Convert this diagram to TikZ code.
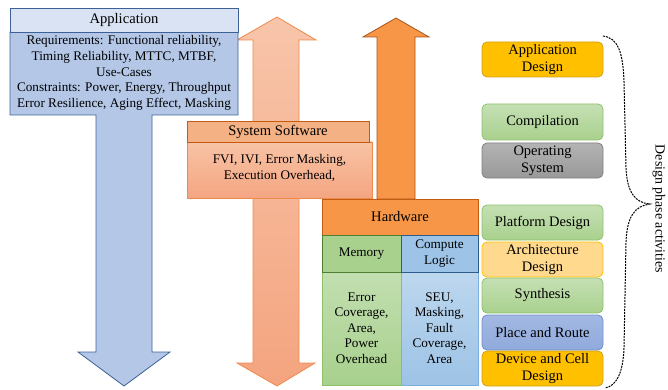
\documentclass[tikz,border=0pt]{standalone}
\usepackage{fontspec}
\setmainfont{Liberation Serif}
\usetikzlibrary{shapes.misc}
\definecolor{appHead}{HTML}{DAE3F3}
\definecolor{appBody}{HTML}{B4C7E7}
\definecolor{appLine}{HTML}{3D6196}
\definecolor{dblTop}{HTML}{F8C5AA}
\definecolor{dblBot}{HTML}{F4A47F}
\definecolor{dblLine}{HTML}{EE8A4C}
\definecolor{ssHead}{HTML}{F4B183}
\definecolor{ssLine}{HTML}{C55A11}
\definecolor{ssTop}{HTML}{F8C3A5}
\definecolor{ssBot}{HTML}{F4A582}
\definecolor{hwFill}{HTML}{F79646}
\definecolor{hwLine}{HTML}{C55A11}
\definecolor{arLine}{HTML}{A9561B}
\definecolor{memHead}{HTML}{A9D18E}
\definecolor{memLine}{HTML}{507E32}
\definecolor{memTop}{HTML}{C2DFB0}
\definecolor{memBot}{HTML}{A8D08D}
\definecolor{memBLine}{HTML}{8CC168}
\definecolor{cmpHead}{HTML}{9DC3E6}
\definecolor{cmpLine}{HTML}{2E5C8A}
\definecolor{cmpTop}{HTML}{BDD7EE}
\definecolor{cmpBot}{HTML}{9DC3E6}
\definecolor{cmpBLine}{HTML}{7BAFDD}
\definecolor{gold}{HTML}{FFC000}
\definecolor{goldLine}{HTML}{D4A017}
\definecolor{grTop}{HTML}{C5E0B4}
\definecolor{grBot}{HTML}{A9D18E}
\definecolor{grLine}{HTML}{8DC26F}
\definecolor{gyTop}{HTML}{B3B3B3}
\definecolor{gyBot}{HTML}{999999}
\definecolor{gyLine}{HTML}{808080}
\definecolor{archFill}{HTML}{FFD98E}
\definecolor{archLine}{HTML}{FFC000}
\definecolor{prTop}{HTML}{A3B8E3}
\definecolor{prBot}{HTML}{8FAADC}
\definecolor{prLine}{HTML}{6E8FD0}
\tikzset{
  box/.style={draw, line width=0.8pt, inner sep=0pt, align=center, font=\fontsize{14.6}{17}\selectfont},
  bodytext/.style={inner sep=0pt, align=center, font=\fontsize{13.2}{15.6}\selectfont},
  phase/.style={draw, line width=0.8pt, rounded corners=5pt, inner sep=0pt, align=center,
    minimum width=121pt, minimum height=35pt, font=\fontsize{14.5}{17}\selectfont},
  greenphase/.style={phase, top color=grTop, bottom color=grBot, draw=grLine}
}
\begin{document}
\begin{tikzpicture}[x=1pt,y=-1pt]
\useasboundingbox (0,0) rectangle (668,390);
% double arrow (software)
\draw[dblLine, line width=0.8pt, top color=dblTop, bottom color=dblBot]
  (277,17) -- (316,40) -- (299,40) -- (299,363) -- (315,363) -- (277,386) -- (237,363)
  -- (253,363) -- (253,40) -- (237,40) -- cycle;
% application with downward arrow
\draw[appLine, line width=0.8pt, fill=appBody]
  (10,32) -- (238,32) -- (238,115) -- (152,115) -- (152,352) -- (170,352) -- (124,386)
  -- (78,352) -- (96,352) -- (96,115) -- (10,115) -- cycle;
\node[box, fill=appHead, draw=appLine, minimum width=228pt, minimum height=24pt] (app) at (124,20) {Application};
\node[bodytext] (appbody) at (124,73) {Requirements: Functional reliability,\\Timing Reliability, MTTC, MTBF,\\Use-Cases\\Constraints: Power, Energy, Throughput\\Error Resilience, Aging Effect, Masking};
% system software
\node[box, top color=ssTop, bottom color=ssBot, draw=dblLine, minimum width=185pt, minimum height=56pt] (ssbody) at (279.5,170) {};
\node[bodytext] (sstext) at (279.5,168) {FVI, IVI, Error Masking,\\Execution Overhead,};
\node[box, fill=ssHead, draw=ssLine, minimum width=182pt, minimum height=21pt] (ss) at (278,131.5) {System Software};
% hardware upward arrow
\draw[arLine, line width=0.8pt, fill=hwFill]
  (396,18) -- (429,37) -- (415,37) -- (415,199) -- (377,199) -- (377,37) -- (363,37) -- cycle;
% hardware
\node[box, fill=hwFill, draw=hwLine, minimum width=156pt, minimum height=36pt] (hw) at (400,217) {Hardware};
\node[box, top color=memTop, bottom color=memBot, draw=memBLine, minimum width=79pt, minimum height=113pt] (membody) at (361.5,328.5) {};
\node[box, top color=cmpTop, bottom color=cmpBot, draw=cmpBLine, minimum width=77pt, minimum height=113pt] (cmpbody) at (439.5,328.5) {};
\node[box, fill=memHead, draw=memLine, minimum width=79pt, minimum height=37pt, font=\fontsize{13.2}{15.6}\selectfont] (mem) at (361.5,253.5) {Memory};
\node[box, fill=cmpHead, draw=cmpLine, minimum width=77pt, minimum height=37pt, font=\fontsize{13.2}{15.6}\selectfont] (cmp) at (439.5,253.5) {Compute\\Logic};
\node[bodytext] (memtext) at (361.5,328) {Error\\Coverage,\\Area,\\Power\\Overhead};
\node[bodytext] (cmptext) at (439.5,328) {SEU,\\Masking,\\Fault\\Coverage,\\Area};
% design phase boxes
\node[phase, fill=gold, draw=goldLine] (p1) at (542.5,59.5) {Application\\Design};
\node[greenphase, minimum height=36pt] (p2) at (542.5,122) {Compilation};
\node[phase, top color=gyTop, bottom color=gyBot, draw=gyLine] (p3) at (542.5,160.5) {Operating\\System};
\node[greenphase] (p4) at (542.5,222.5) {Platform Design};
\node[phase, fill=archFill, draw=archLine] (p5) at (542.5,259.5) {Architecture\\Design};
\node[greenphase] (p6) at (542.5,295.5) {Synthesis};
\node[phase, top color=prTop, bottom color=prBot, draw=prLine] (p7) at (542.5,332.5) {Place and Route};
\node[phase, fill=gold, draw=goldLine] (p8) at (542.5,368.5) {Device and Cell\\Design};
% brace
\coordinate (bt) at (603,36);
\coordinate (bm) at (650,204);
\coordinate (bb) at (605,388);
\draw[line width=1pt, dash pattern=on 2pt off 1pt]
  (bt) .. controls (618,38) and (623,52) .. (624,82) -- (626,168)
  .. controls (627,192) and (635,203) .. (bm)
  .. controls (635,206) and (627,216) .. (626,242) -- (624,348)
  .. controls (623,374) and (616,386) .. (bb);
\node[rotate=-90, inner sep=0pt, font=\fontsize{13.9}{16}\selectfont] (dpa) at (659,209) {Design phase activities};
\end{tikzpicture}
\end{document}
